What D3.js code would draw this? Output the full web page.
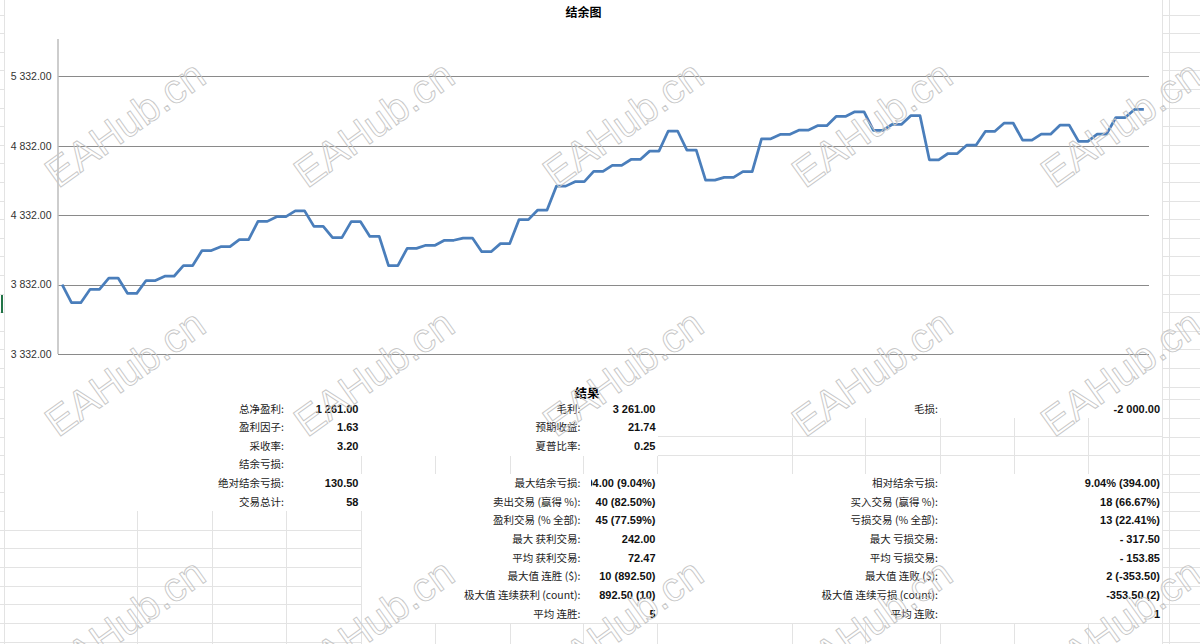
<!DOCTYPE html>
<html>
<head>
<meta charset="utf-8">
<script src="https://cdn.jsdelivr.net/npm/d3@7"></script>
<style>
  html, body { margin: 0; padding: 0; background: #fff; }
  svg { display: block; }
</style>
</head>
<body>
<svg id="chart" width="1200" height="644"></svg>
<script>
// balance after each row of the report (open row + close row per trade)
const balance = [
  3832,
  3701.5, 3701.5, 3798, 3798, 3879, 3879, 3769, 3769, 3861, 3861,
  3892, 3892, 3969, 3969, 4077, 4077, 4105, 4105, 4156, 4156,
  4287, 4287, 4321, 4321, 4363, 4363, 4251, 4251, 4170, 4170,
  4285, 4285, 4179, 4179, 3969, 3969, 4093, 4093, 4115, 4115,
  4151, 4151, 4167, 4167, 4069, 4069, 4127, 4127, 4300, 4300,
  4369, 4369, 4541, 4541, 4573, 4573, 4647, 4647, 4690, 4690,
  4733, 4733, 4793, 4793, 4938, 4938, 4800, 4800, 4584.5, 4584.5,
  4604, 4604, 4645, 4645, 4882, 4882, 4913, 4913, 4944, 4944,
  4976, 4976, 5043, 5043, 5076, 5076, 4942, 4942, 4985, 4985,
  5048, 5048, 4730.5, 4730.5, 4776, 4776, 4836, 4836, 4935, 4935,
  4994, 4994, 4872, 4872, 4915, 4915, 4980, 4980, 4863, 4863,
  4915, 4915, 5035, 5035, 5093, 5093
];
const yTicks = [3332, 3832, 4332, 4832, 5332];

const labels1 = ["总净盈利:", "盈利因子:", "采收率:", "结余亏损:", "绝对结余亏损:", "交易总计:"];
const values1 = ["1 261.00", "1.63", "3.20", "", "130.50", "58"];
const labels2 = ["毛利:", "预期收益:", "夏普比率:", "", "最大结余亏损:", "卖出交易 (赢得 %):",
  "盈利交易 (% 全部):", "最大 获利交易:", "平均 获利交易:", "最大值 连胜 ($):", "极大值 连续获利 (count):", "平均 连胜:"];
const values2 = ["3 261.00", "21.74", "0.25", "", "394.00 (9.04%)", "40 (82.50%)",
  "45 (77.59%)", "242.00", "72.47", "10 (892.50)", "892.50 (10)", "5"];
const labels3 = ["毛损:", "", "", "", "相对结余亏损:", "买入交易 (赢得 %):",
  "亏损交易 (% 全部):", "最大 亏损交易:", "平均 亏损交易:", "最大值 连败 ($):", "极大值 连续亏损 (count):", "平均 连败:"];
const values3 = ["-2 000.00", "", "", "", "9.04% (394.00)", "18 (66.67%)",
  "13 (22.41%)", "- 317.50", "- 153.85", "2 (-353.50)", "-353.50 (2)", "1"];

const svg = d3.select("#chart");
const W = 1200, H = 644;
const plot = {left: 57.5, right: 1148.5, top: 39, bottom: 354};
const cjk = "'Noto Sans CJK SC', 'Noto Sans', sans-serif";
const latin = "'Liberation Sans', Arial, sans-serif";

// ---- spreadsheet cell grid behind everything
const gridColor = "#e3e3e3";
const rowsTop = d3.range(15, 395, 18.6);
const rowsBot = d3.range(399.7, H, 18.65);
const rows = rowsTop.concat(rowsBot);
const sheet = svg.append("g").attr("stroke", gridColor).attr("stroke-width", 1).attr("shape-rendering", "crispEdges");

function cells(x0, x1, y0, y1, vx, hy) {
  vx.forEach(x => sheet.append("line").attr("x1", x).attr("x2", x).attr("y1", y0).attr("y2", y1));
  hy.forEach(y => sheet.append("line").attr("x1", x0).attr("x2", x1).attr("y1", y).attr("y2", y));
}
cells(0, 4.5, 0, H, [4.5], rows);
cells(1162, W, 0, H, [1162.5, 1169.5], rows);
cells(4.5, 361, 511, H, [137.7, 212, 286.7, 361], rowsBot.filter(y => y > 520));
cells(361, 657, 455.5, 474, [361, 435, 510, 583.5], []);
cells(657.5, 1162, 418, 474, [792, 865, 940, 1014, 1088], [436.7, 455.5]);
sheet.append("line").attr("x1", 657.5).attr("x2", 657.5).attr("y1", 455.5).attr("y2", 474);
cells(361, 1162, 623.3, H, [361, 435, 510, 583.5, 657.5, 792, 865, 940, 1014, 1088], [623.3]);

// selected-row marker at far left
svg.append("rect").attr("x", 1).attr("y", 295).attr("width", 2).attr("height", 18).attr("fill", "#217346");

// ---- chart
const x = d3.scalePoint().domain(d3.range(balance.length)).range([plot.left, plot.right]).padding(0.5);
const y = d3.scaleLinear().domain([3332, 5332]).range([plot.bottom, 76.3]);

svg.append("text")
  .attr("x", 583.5).attr("y", 17)
  .attr("text-anchor", "middle")
  .attr("font-family", cjk).attr("font-weight", "bold").attr("font-size", 12)
  .attr("fill", "#000")
  .text("结余图");

const gy = svg.append("g").attr("transform", `translate(${plot.left},0)`)
  .call(d3.axisLeft(y).tickValues(yTicks).tickSize(-(plot.right - plot.left)).tickPadding(6)
    .tickFormat(d => d3.format(",.2f")(d).replace(/,/g, " ")));
gy.select(".domain").remove();
gy.selectAll(".tick line").attr("stroke", "#8a8a8a").attr("stroke-width", 1).attr("shape-rendering", "crispEdges");
gy.selectAll(".tick text").attr("font-family", latin).attr("font-size", 10.5).attr("fill", "#333");

svg.append("line")
  .attr("x1", plot.left + 0.5).attr("x2", plot.left + 0.5)
  .attr("y1", plot.top).attr("y2", plot.bottom)
  .attr("stroke", "#bdbdbd").attr("stroke-width", 1.5);

const line = d3.line().x((d, i) => x(i)).y(d => y(d));
svg.append("path")
  .datum(balance)
  .attr("fill", "none")
  .attr("stroke", "#4a7ebb")
  .attr("stroke-width", 2.75)
  .attr("stroke-linejoin", "round")
  .attr("d", line);

// ---- results table
svg.append("text")
  .attr("x", 587).attr("y", 397.5)
  .attr("text-anchor", "middle")
  .attr("font-family", cjk).attr("font-weight", "bold").attr("font-size", 12.5)
  .text("结果");

const rowY = i => 412.5 + i * 18.65;
// the long drawdown value overflows its cell and gets cut by the label cell
svg.append("clipPath").attr("id", "c2").append("rect")
  .attr("x", 591).attr("y", 380).attr("width", 80).attr("height", 260);

function column(labels, values, labelRight, valueRight, clip) {
  const g = svg.append("g");
  g.selectAll("text.lab").data(labels).join("text")
    .attr("class", "lab")
    .attr("x", labelRight).attr("y", (d, i) => rowY(i))
    .attr("text-anchor", "end")
    .attr("font-family", cjk).attr("font-size", 10.5).attr("fill", "#222")
    .text(d => d);
  g.selectAll("text.val").data(values).join("text")
    .attr("class", "val")
    .attr("clip-path", (d, i) => (clip && i === 4) ? `url(#${clip})` : null)
    .attr("x", valueRight).attr("y", (d, i) => rowY(i))
    .attr("text-anchor", "end")
    .attr("font-family", latin).attr("font-weight", "bold").attr("font-size", 11).attr("fill", "#111")
    .text(d => d);
}
column(labels1, values1, 284, 358.5, null);
column(labels2, values2, 580.5, 655.5, "c2");
column(labels3, values3, 938, 1160, null);

// ---- watermark
const wmX = [125, 374, 623, 872, 1121];
const wmY = [124, 373, 622];
const wm = svg.append("g").attr("pointer-events", "none");
wmY.forEach(cy => wmX.forEach(cx => {
  wm.append("text")
    .attr("transform", `translate(${cx},${cy}) rotate(-35.5)`)
    .attr("text-anchor", "middle").attr("dominant-baseline", "central")
    .attr("font-family", latin).attr("font-size", 41)
    .attr("fill", "none").attr("stroke", "#c6c6c6").attr("stroke-width", 0.9)
    .text("EAHub.cn");
}));
</script>
</body>
</html>
